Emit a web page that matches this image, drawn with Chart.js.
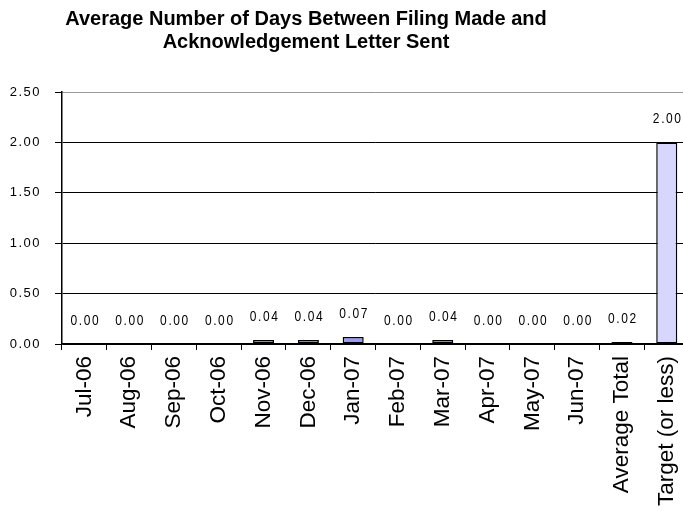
<!DOCTYPE html>
<html>
<head>
<meta charset="utf-8">
<script src="https://cdn.jsdelivr.net/npm/chart.js@4/dist/chart.umd.min.js"></script>
<style>
  html, body { margin: 0; padding: 0; background: #fff; overflow: hidden; }
  #wrap { position: relative; width: 683px; height: 511px; overflow: hidden; }
  #title {
    position: absolute; left: 0; top: 7px; width: 612px;
    text-align: center; font: bold 20px "Liberation Sans", Arial, sans-serif;
    line-height: 23px; color: #000;
  }
  canvas { position: absolute; left: 0; top: 0; }
</style>
</head>
<body>
<div id="wrap">
  <canvas id="chart" width="700" height="511"></canvas>
  <div id="title">Average Number of Days Between Filing Made and<br>Acknowledgement Letter Sent</div>
</div>
<script>
const categories = ['Jul-06', 'Aug-06', 'Sep-06', 'Oct-06', 'Nov-06', 'Dec-06', 'Jan-07',
  'Feb-07', 'Mar-07', 'Apr-07', 'May-07', 'Jun-07', 'Average Total', 'Target (or less)'];
const days = [0.00, 0.00, 0.00, 0.00, 0.04, 0.04, 0.07, 0.00, 0.04, 0.00, 0.00, 0.00, 0.02, 2.00];
const yTicks = ['0.00', '0.50', '1.00', '1.50', '2.00', '2.50'];

const barFill = days.map((v, i) => i === days.length - 1 ? '#D6D6FF' : '#9999FF');

const spacedTicks = {
    id: 'spacedTicks',
    beforeDraw(chart) {
        const y = chart.scales.y;
        if (y && !y._spaced) {
            const orig = y.drawLabels.bind(y);
            y.drawLabels = function (area) {
                chart.ctx.save();
                chart.ctx.letterSpacing = '1.5px';
                orig(area);
                chart.ctx.restore();
            };
            y._spaced = true;
        }
    }
};

// narrow, spaced numbers above each bar
const valueLabels = {
    id: 'valueLabels',
    afterDatasetsDraw(chart) {
        const ctx = chart.ctx;
        const meta = chart.getDatasetMeta(0);
        meta.data.forEach((bar, i) => {
            ctx.save();
            ctx.translate(bar.x + 1, bar.y - 16);
            ctx.scale(0.8, 1);
            ctx.font = '15px "Liberation Sans", Arial, sans-serif';
            ctx.fillStyle = '#000';
            ctx.textAlign = 'center';
            ctx.textBaseline = 'bottom';
            ctx.letterSpacing = '2px';
            ctx.fillText(days[i].toFixed(2), 0, 0);
            ctx.restore();
        });
    }
};

const ctx = document.getElementById('chart');

const chart = new Chart(ctx, {
    type: 'bar',
    data: {
        labels: categories,
        datasets: [{
            data: days,
            backgroundColor: barFill,
            borderColor: '#000',
            borderWidth: 1.5,
            borderSkipped: false,
            barPercentage: 0.47,
            categoryPercentage: 1
        }]
    },
    options: {
        responsive: false,
        animation: false,
        layout: { padding: { left: 0, top: 92, right: 7, bottom: 0 } },
        plugins: {
            legend: { display: false },
            title: { display: false },
            tooltip: { enabled: false }
        },
        scales: {
            x: {
                afterFit: (scale) => { scale.height = 167; },
                grid: {
                    display: true,
                    drawOnChartArea: false,
                    drawTicks: true,
                    tickLength: 6,
                    color: '#000',
                    offset: true
                },
                border: { display: true, color: '#000', width: 1.5 },
                ticks: {
                    minRotation: 90,
                    maxRotation: 90,
                    autoSkip: false,
                    padding: 6,
                    color: '#000',
                    font: { family: '"Liberation Sans", Arial, sans-serif', size: 22.5 }
                }
            },
            y: {
                min: 0,
                max: 2.5,
                afterFit: (scale) => { scale.width = 62; },
                afterBuildTicks: (scale) => {
                    scale.ticks = yTicks.map(t => ({ value: parseFloat(t) }));
                },
                grid: {
                    color: (c) => c.tick && c.tick.value === 2.5 ? '#999' : '#000',
                    lineWidth: 1,
                    tickLength: 7,
                    tickColor: '#000'
                },
                border: { display: true, color: '#000', width: 1.5 },
                ticks: {
                    padding: 14,
                    color: '#000',
                    font: { family: '"Liberation Sans", Arial, sans-serif', size: 13 },
                    callback: (v, i) => yTicks[i]
                }
            }
        }
    },
    plugins: [spacedTicks, valueLabels]
});
</script>
</body>
</html>
